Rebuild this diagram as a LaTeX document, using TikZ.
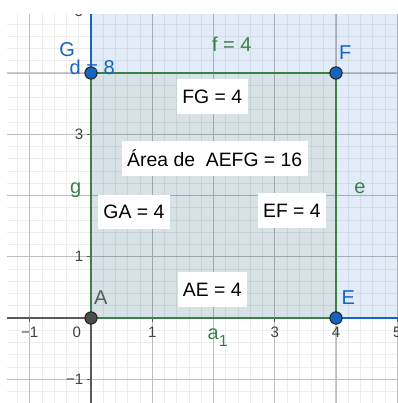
\documentclass[tikz,border=0pt]{standalone}
\usepackage{fontspec}
\setmainfont{Liberation Sans}
\definecolor{ggblue}{RGB}{21,101,192}
\definecolor{gggreen}{RGB}{58,128,72}
\definecolor{ggregion}{RGB}{226,236,249}
\definecolor{ggsquare}{RGB}{214,226,229}
\tikzset{
	dot/.style={circle,draw=black!85,line width=0.5pt,inner sep=0pt,minimum size=0.2cm},
	valbox/.style={fill=white,inner xsep=2.5pt,minimum height=0.57cm,font=\fontsize{9}{10}\selectfont},
	ptlabel/.style={font=\fontsize{9.3}{10}\selectfont},
	ticklbl/.style={text=black!75,font=\fontsize{7}{8}\selectfont,inner sep=0pt}
}

\begin{document}
\begin{tikzpicture}
	\useasboundingbox (-1.486,-1.388) rectangle (5.012,5.192);
	\coordinate (A) at (0,0);
	\coordinate (E) at (4,0);
	\coordinate (F) at (4,4);
	\coordinate (G) at (0,4);
	\coordinate (top) at (0,5.1);
	\coordinate (right) at (5.2,0);
	\begin{scope}
		\clip (-1.37,-1.388) rectangle (5.012,4.95);
		\fill[ggregion] (A) rectangle (5.2,5.1);
		\fill[ggsquare] (A) rectangle (F);
		\draw[black,opacity=0.07,line width=0.4pt] (-1.4,-1.4) grid[step=0.2] (5.2,5.2);
		\draw[black,opacity=0.2,line width=0.5pt] (-1.4,-1.4) grid[step=1] (5.2,5.2);
		\draw[black!65,line width=0.6pt] (-1.4,0) -- (5.2,0);
		\draw[black!65,line width=0.6pt] (0,-1.4) -- (0,5.2);
		\foreach \x in {-1,1,3,4,5}
			\draw[black!65,line width=0.5pt] (\x,0) -- (\x,-0.06);
		\foreach \y in {-1,1,3,5}
			\draw[black!65,line width=0.5pt] (0,\y) -- (-0.06,\y);
		\foreach \x/\t in {-1/−1,1/1,3/3,4/4,5/5}
			\node[ticklbl] (tx\x) at (\x,-0.23) {\t};
		\node[ticklbl] (tx0) at (-0.23,-0.23) {0};
		\foreach \y/\t in {-1/−1,1/1,3/3,5/5}
			\node[ticklbl,anchor=east] (ty\y) at (-0.12,\y) {\t};
		% sides of the square and the region
		\draw[gggreen,line width=1.3pt] (A) -- (E) -- (F) -- (G) -- cycle;
		\draw[ggblue,line width=1.3pt] (G) -- (top);
		\draw[ggblue,line width=1.3pt] (E) -- (right);
	\end{scope}
	\node[dot,fill=black!70] (dotA) at (A) {};
	\node[dot,fill=ggblue] (dotE) at (E) {};
	\node[dot,fill=ggblue] (dotF) at (F) {};
	\node[dot,fill=ggblue] (dotG) at (G) {};
	% point and object labels
	\node[ptlabel,text=black!65] (labA) at (0.16,0.33) {A};
	\node[ptlabel,text=ggblue] (labE) at (4.2,0.33) {E};
	\node[ptlabel,text=ggblue] (labF) at (4.15,4.34) {F};
	\node[ptlabel,text=ggblue] (labG) at (-0.39,4.38) {G};
	\node[ptlabel,text=ggblue] (labd) at (0.02,4.1) {d = 8};
	\node[ptlabel,text=gggreen] (labf) at (2.3,4.47) {f = 4};
	\node[ptlabel,text=gggreen] (labe) at (4.39,2.12) {e};
	\node[ptlabel,text=gggreen] (labg) at (-0.25,2.09) {g};
	\node[ptlabel,text=gggreen] (laba) at (2.07,-0.32) {a\raisebox{-0.6ex}{\fontsize{7.5}{8}\selectfont 1}};
	% measurements
	\node[valbox] (FG) at (1.98,3.61) {FG = 4};
	\node[valbox] (area) at (2.02,2.61) {Área de\ \ AEFG = 16};
	\node[valbox] (GA) at (0.70,1.73) {GA = 4};
	\node[valbox] (EF) at (3.28,1.75) {EF = 4};
	\node[valbox] (AE) at (1.98,0.46) {AE = 4};
\end{tikzpicture}
\end{document}
